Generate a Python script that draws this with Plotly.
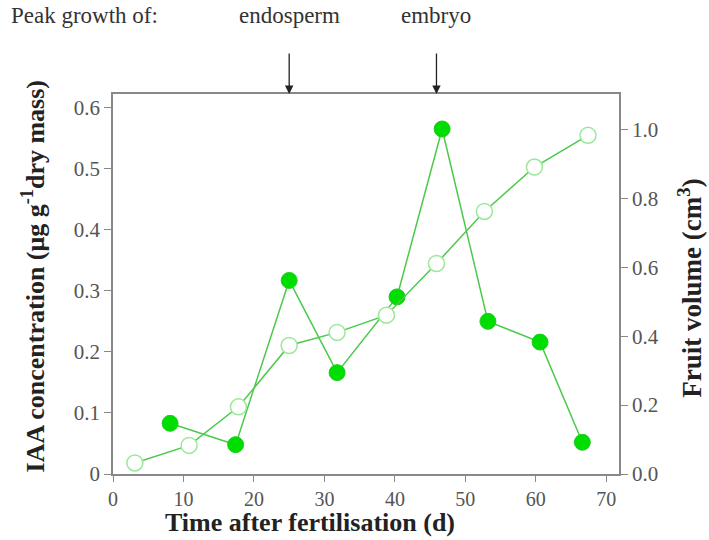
import plotly.graph_objects as go

# IAA concentration (filled markers, left axis)
iaa_days = [8.1, 17.4, 25.0, 31.8, 40.3, 46.7, 53.2, 60.6, 66.6]
iaa_conc = [0.083, 0.048, 0.317, 0.166, 0.290, 0.565, 0.250, 0.216, 0.052]

# Fruit volume (open markers, right axis)
vol_days = [3.1, 10.8, 17.8, 25.0, 31.8, 38.8, 45.9, 52.7, 59.8, 67.4]
vol_cm3 = [0.032, 0.083, 0.195, 0.373, 0.411, 0.461, 0.611, 0.762, 0.891, 0.983]

x_ticks = [0, 10, 20, 30, 40, 50, 60, 70]
left_ticks = [0, 0.1, 0.2, 0.3, 0.4, 0.5, 0.6]
left_labels = ["0", "0.1", "0.2", "0.3", "0.4", "0.5", "0.6"]
right_ticks = [0.0, 0.2, 0.4, 0.6, 0.8, 1.0]
right_labels = ["0.0", "0.2", "0.4", "0.6", "0.8", "1.0"]

peaks = {"endosperm": 25.0, "embryo": 45.9}

SERIF = "Liberation Serif, Times New Roman, serif"
LINE_GREEN = "#4cc94c"
FILL_GREEN = "#00dd00"
OPEN_EDGE = "#9be89b"
AXIS = "#888888"

fig = go.Figure()
fig.add_trace(go.Scatter(
    x=vol_days, y=vol_cm3, yaxis="y2", mode="lines+markers",
    line=dict(color=LINE_GREEN, width=1.5),
    marker=dict(size=16, color="white", line=dict(color=OPEN_EDGE, width=1.5)),
    showlegend=False,
))
fig.add_trace(go.Scatter(
    x=iaa_days, y=iaa_conc, mode="lines+markers",
    line=dict(color=LINE_GREEN, width=1.5),
    marker=dict(size=16, color=FILL_GREEN, line=dict(color="#22cc22", width=1)),
    showlegend=False,
))

tickfont = dict(family=SERIF, size=21, color="#555555")
xtickfont = dict(family=SERIF, size=20, color="#555555")

fig.update_layout(
    width=709, height=540,
    margin=dict(l=113, r=90, t=94, b=66),
    paper_bgcolor="white", plot_bgcolor="white",
    font=dict(family=SERIF),
    xaxis=dict(
        range=[0, 71.8], tickvals=x_ticks, ticks="outside", ticklen=6,
        tickcolor=AXIS, showline=True, linecolor=AXIS, linewidth=1.5,
        mirror=True, showgrid=False, zeroline=False, tickfont=xtickfont,
    ),
    yaxis=dict(
        range=[0, 0.6223], tickvals=left_ticks, ticktext=left_labels,
        ticks="outside", ticklen=7, tickcolor=AXIS, showline=True,
        linecolor=AXIS, linewidth=1.5, showgrid=False, zeroline=False,
        tickfont=tickfont,
    ),
    yaxis2=dict(
        range=[0, 1.103], tickvals=right_ticks, ticktext=right_labels,
        overlaying="y", side="right", ticks="outside", ticklen=7,
        tickcolor=AXIS, showline=True, linecolor=AXIS, linewidth=1.5,
        showgrid=False, zeroline=False, tickfont=tickfont,
    ),
)

# axis titles
fig.add_annotation(
    text="<b>Time after fertilisation (d)</b>", xref="paper", yref="paper",
    x=0.39, y=-0.171, xanchor="center", yanchor="bottom", showarrow=False,
    font=dict(family=SERIF, size=26, color="#222222"),
)
fig.add_annotation(
    text="<b>IAA concentration (μg g<sup>-1</sup>dry mass)</b>", xref="paper", yref="paper",
    x=-0.158, y=0.52, xanchor="center", yanchor="middle", showarrow=False,
    textangle=-90, font=dict(family=SERIF, size=26, color="#222222"),
)
fig.add_annotation(
    text="<b>Fruit volume (cm<sup>3</sup>)</b>", xref="paper", yref="paper",
    x=1.140, y=0.49, xanchor="center", yanchor="middle", showarrow=False,
    textangle=-90, font=dict(family=SERIF, size=27, color="#222222"),
)

fig.add_annotation(
    text="Peak growth of:", xref="paper", yref="paper", x=-0.205, y=1.0,
    yshift=79, xanchor="left", yanchor="middle", showarrow=False,
    font=dict(family=SERIF, size=23, color="#333333"),
)
for name, day in peaks.items():
    fig.add_annotation(
        text=name, xref="x", yref="paper", x=day, y=1.0, yshift=79,
        xanchor="center", yanchor="middle", showarrow=False,
        font=dict(family=SERIF, size=23, color="#333333"),
    )
    fig.add_annotation(
        text="", xref="x", yref="paper", x=day, y=1.0,
        ax=0, ay=-42, axref="pixel", ayref="pixel",
        showarrow=True, arrowhead=2, arrowsize=1.3, arrowwidth=1.3,
        arrowcolor="#222222",
    )

fig.write_html("out.html")
